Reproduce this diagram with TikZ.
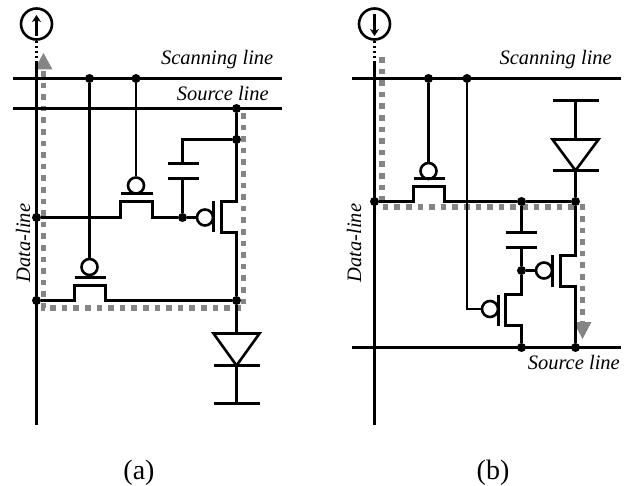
\documentclass[tikz,border=0pt]{standalone}
\usepackage{fontspec}
\setmainfont{Liberation Serif}
\usetikzlibrary{arrows.meta,calc}
\tikzset{
  wire/.style={line width=2.6pt,black},
  thin wire/.style={line width=2pt,black},
  flow/.style={line width=5.6pt,draw=black!48,dash pattern=on 5.6pt off 6pt},
  flowhead/.style={fill=black!48,draw=none},
  dot/.style={circle,fill=black,inner sep=0pt,minimum size=9pt},
  bubble/.style={circle,draw=black,line width=2.6pt,inner sep=0pt,minimum size=16pt},
  port/.style={circle,draw=black,line width=2.6pt,inner sep=0pt,minimum size=31pt},
  lbl/.style={font=\fontsize{20.5}{22}\selectfont\itshape,inner sep=0pt},
  caplbl/.style={font=\fontsize{28}{30}\selectfont,inner sep=0pt},
  pointer/.style={line width=2.4pt,-{Stealth[length=7pt,width=9pt]}},
}
\begin{document}
\begin{tikzpicture}[x=1pt,y=-1pt]
\useasboundingbox (0,0) rectangle (626,486);
% ---------- panel (a) ----------
% flow
\coordinate (af1) at (43.5,66);
\coordinate (af2) at (43.5,308);
\coordinate (af3) at (243.5,308);
\coordinate (af4) at (243.5,113);
\draw[flow] (af4) -- (af3) -- (af2) -- (af1);
\coordinate (afa) at (43.5,53);
\fill[flowhead] (afa) -- (34.5,69.5) -- (52.5,69.5) -- cycle;
% main lines
\node[port] (ap) at (36.5,24) {};
\coordinate (apt) at (36.5,36);
\coordinate (aph) at (36.5,15);
\draw[pointer] (apt) -- (aph);
\coordinate (adt) at (36.5,63);
\coordinate (adb) at (36.5,425);
\draw[wire,dash pattern=on 2.5pt off 2.5pt] (ap.south) -- (adt);
\draw[wire] (adt) -- (adb);
\coordinate (asl) at (13,78.5); \coordinate (asr) at (282,78.5);
\coordinate (ael) at (13,108.5); \coordinate (aer) at (282,108.5);
\draw[wire] (asl) -- (asr);
\draw[wire] (ael) -- (aer);
\node[dot] (a1) at (89.5,78.5) {};
\node[dot] (a2) at (136,78.5) {};
\node[dot] (a3) at (236.5,108.5) {};
\node[dot] (a4) at (236.5,139.5) {};
\node[dot] (a5) at (36.5,217.5) {};
\node[dot] (a6) at (182.5,217.5) {};
\node[dot] (a7) at (36.5,300.5) {};
\node[dot] (a8) at (236.5,300.5) {};
% top pass transistor
\node[bubble] (ab1) at (136,185.5) {};
\draw[thin wire] (a2) -- (ab1.north);
\draw[wire] (120.5,193.5) -- (152.5,193.5);
\draw[wire] (a5) -- (120.5,217.5) -- (120.5,201.5) -- (152.5,201.5) -- (152.5,217.5) -- (a6);
% bottom pass transistor
\node[bubble] (ab2) at (89.5,267) {};
\draw[wire] (a1) -- (ab2.north);
\draw[wire] (74.5,277.5) -- (105.5,277.5);
\draw[wire] (a7) -- (74.5,300.5) -- (74.5,285.5) -- (105.5,285.5) -- (105.5,300.5) -- (a8);
% storage capacitor
\draw[wire] (167.5,163.5) -- (198.5,163.5);
\draw[wire] (167.5,178.5) -- (198.5,178.5);
\coordinate (act) at (182.5,163.5);
\coordinate (acb) at (182.5,178.5);
\draw[wire] (a4) -- (182.5,139.5) -- (act);
\draw[wire] (acb) -- (a6);
% driver
\node[bubble] (ab3) at (205,217.5) {};
\draw[wire] (a6) -- (ab3.west);
\draw[wire] (213.5,201.5) -- (213.5,232.5);
\draw[wire] (a3) -- (236.5,201.5) -- (221.5,201.5) -- (221.5,232.5) -- (236.5,232.5) -- (a8);
% diode
\coordinate (adi) at (236.5,333.5);
\coordinate (ada) at (236.5,365.5);
\coordinate (adg) at (236.5,403.5);
\draw[wire] (a8) -- (adi);
\draw[wire,line join=miter] (213.5,333.5) -- (259.5,333.5) -- (ada) -- cycle;
\draw[wire] (213.5,365.5) -- (259.5,365.5);
\draw[wire] (ada) -- (adg);
\draw[wire] (213.5,403.5) -- (259.5,403.5);
% labels
\node[lbl,anchor=base east] (at1) at (273.5,65) {Scanning line};
\node[lbl,anchor=base east] (at2) at (269,101) {Source line};
\node[lbl,rotate=90] (at3) at (23,243) {Data-line};
\node[caplbl,anchor=base] (at4) at (139,479) {(a)};
% ---------- panel (b) ----------
\coordinate (bf1) at (382,57);
\coordinate (bf2) at (382,207);
\coordinate (bf3) at (582.5,207);
\coordinate (bf4) at (582.5,324);
\draw[flow] (bf1) -- (bf2) -- (bf3) -- (bf4);
\coordinate (bfa) at (582.5,339);
\fill[flowhead] (bfa) -- (573.5,322) -- (591.5,322) -- cycle;
\node[port] (bp) at (374.5,24) {};
\coordinate (bpt) at (374.5,14);
\coordinate (bph) at (374.5,36);
\draw[pointer] (bpt) -- (bph);
\coordinate (bdt) at (374.5,63);
\coordinate (bdb) at (374.5,425);
\draw[wire,dash pattern=on 2.5pt off 2.5pt] (bp.south) -- (bdt);
\draw[wire] (bdt) -- (bdb);
\coordinate (bsl) at (352,78.5); \coordinate (bsr) at (621,78.5);
\coordinate (bel) at (352,347.5); \coordinate (ber) at (621,347.5);
\draw[wire] (bsl) -- (bsr);
\draw[wire] (bel) -- (ber);
\node[dot] (b1) at (428.5,78.5) {};
\node[dot] (b2) at (467,78.5) {};
\node[dot] (b3) at (374.5,201.5) {};
\node[dot] (b4) at (521.5,201.5) {};
\node[dot] (b5) at (575.5,201.5) {};
\node[dot] (b6) at (521.5,270.5) {};
\node[dot] (b7) at (521.5,347.5) {};
\node[dot] (b8) at (575.5,347.5) {};
% pass transistor
\node[bubble] (bb1) at (428.5,171) {};
\draw[wire] (b1) -- (bb1.north);
\draw[wire] (413.5,178.5) -- (444.5,178.5);
\draw[wire] (b3) -- (413.5,201.5) -- (413.5,186.5) -- (444.5,186.5) -- (444.5,201.5) -- (b4);
\draw[wire] (b4) -- (b5);
% capacitor
\draw[wire] (505.5,232.5) -- (536.5,232.5);
\draw[wire] (505.5,247.5) -- (536.5,247.5);
\coordinate (bct) at (521.5,232.5);
\coordinate (bcb) at (521.5,247.5);
\draw[wire] (b4) -- (bct);
\draw[wire] (bcb) -- (b6);
% lower-left transistor
\node[bubble] (bb2) at (490,309) {};
\draw[thin wire] (b2) -- (467,309) -- (bb2.west);
\draw[wire] (498.5,294.5) -- (498.5,325.5);
\draw[wire] (b6) -- (521.5,294.5) -- (505.5,294.5) -- (505.5,325.5) -- (521.5,325.5) -- (b7);
% driver
\node[bubble] (bb3) at (544,270.5) {};
\draw[wire] (b6) -- (bb3.west);
\draw[wire] (552.5,255.5) -- (552.5,286.5);
\draw[wire] (b5) -- (575.5,255.5) -- (560.5,255.5) -- (560.5,286.5) -- (575.5,286.5) -- (b8);
% diode
\coordinate (bdi) at (575.5,139.5);
\coordinate (bda) at (575.5,170.5);
\coordinate (bdg) at (575.5,100.5);
\draw[wire] (552.5,100.5) -- (598.5,100.5);
\draw[wire] (bdg) -- (bdi);
\draw[wire,line join=miter] (552.5,139.5) -- (598.5,139.5) -- (bda) -- cycle;
\draw[wire] (552.5,170.5) -- (598.5,170.5);
\draw[wire] (bda) -- (b5);
% labels
\node[lbl,anchor=base east] (bt1) at (612,65) {Scanning line};
\node[lbl,anchor=base east] (bt2) at (620,369) {Source line};
\node[lbl,rotate=90] (bt3) at (354,243) {Data-line};
\node[caplbl,anchor=base] (bt4) at (493,479) {(b)};
\end{tikzpicture}
\end{document}
